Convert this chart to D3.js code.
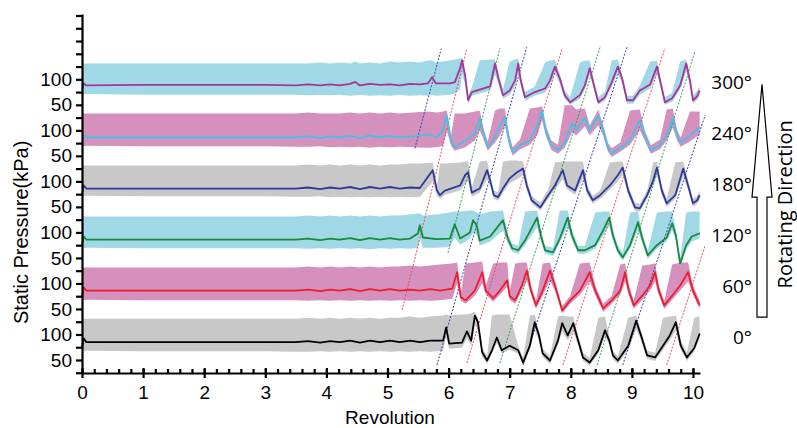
<!DOCTYPE html>
<html>
<head>
<meta charset="utf-8">
<script src="https://d3js.org/d3.v7.min.js"></script>
<style>
  body { margin: 0; background: #fff; }
  svg { display: block; font-family: "Liberation Sans", Arial, sans-serif; }
  .axis path, .axis line { stroke: #000; stroke-width: 2.2; }
  .axis text { font-size: 19px; fill: #000; font-family: "Liberation Sans", Arial, sans-serif; }
  .side { font-family: "Open Sans", "Noto Sans", sans-serif; fill: #000; }
</style>
</head>
<body>
<div id="chart-area"><svg></svg></div>
<script>
// sensor angles, bottom to top
const angles = ["0°", "60°", "120°", "180°", "240°", "300°"];

// 0 deg sensor: revolution, pressure line, envelope high / low (kPa)
const p0Rev = [0,0.03,0.07,1,2,3,3.5,3.7,3.9,4.06,4.22,4.39,4.55,4.71,4.88,5.04,5.2,5.37,5.53,5.7,5.91,5.96,6.01,6.22,6.3,6.37,6.43,6.48,6.55,6.63,6.71,6.79,6.87,7,7.14,7.22,7.33,7.41,7.48,7.54,7.66,7.79,7.86,7.95,8.04,8.12,8.2,8.31,8.45,8.56,8.63,8.69,8.77,8.94,9.07,9.15,9.25,9.38,9.51,9.62,9.72,9.8,9.9,10.02,10.11];
const p0Line = [75,92,85,85,85,85,85,87,84,87,85,88,84,88,85,88,85,88,85,88,88,114,82,84,106,88,137,124,65,49,69,94,69,78,69,45,78,124,98,63,49,88,122,98,122,88,55,45,69,108,88,59,49,78,127,98,59,55,78,98,124,78,55,73,102];
const p0Hi = [131,131,131,131,131,131,131,133,131,133,131,133,131,133,131,133,133,135,133,135,137,139,137,139,139,141,145,133,74,58,137,139,139,139,78,54,137,139,108,72,58,135,137,135,135,98,64,54,133,135,98,68,58,133,137,108,68,64,133,135,137,88,64,133,135];
const p0Lo = [67,67,68,67,67,67,66,66,67,66,67,66,67,66,67,66,67,66,67,66,68,96,72,74,92,78,118,110,58,42,62,84,62,70,62,39,70,108,88,56,42,80,106,88,106,80,48,39,62,96,80,52,42,70,110,88,52,48,70,88,108,70,48,66,92];

// 60 deg sensor
const p60Rev = [0,0.03,0.07,1,2,3,3.5,3.7,3.9,4.06,4.22,4.39,4.55,4.71,4.88,5.04,5.2,5.37,5.53,5.7,5.86,6.06,6.14,6.2,6.28,6.43,6.55,6.61,6.73,6.84,6.96,7,7.09,7.2,7.28,7.35,7.43,7.54,7.66,7.74,7.86,7.99,8.15,8.31,8.4,8.53,8.67,8.81,8.89,8.95,9.03,9.17,9.3,9.38,9.44,9.53,9.66,9.79,9.92,10,10.11];
const p60Line = [75,92,86,86,86,86,86,88,85,88,86,89,85,89,86,89,86,88,86,89,86,90,122,73,67,86,122,86,71,86,106,75,67,96,125,86,57,86,125,96,47,67,86,122,86,51,67,86,122,86,57,76,96,122,86,57,76,96,122,86,57];
const p60Hi = [131,131,131,131,131,131,131,133,131,133,131,133,131,133,131,133,133,135,133,135,137,139,141,82,139,141,143,96,139,141,141,84,139,141,141,96,66,139,141,106,56,76,139,141,96,60,76,137,139,96,66,135,137,139,96,66,137,141,141,96,66];
const p60Lo = [67,67,68,67,67,67,67,66,67,66,67,66,67,66,67,66,67,66,67,66,67,70,100,66,60,76,100,78,64,78,94,68,60,86,106,78,50,76,106,86,41,60,78,104,78,44,60,78,104,78,50,68,86,104,78,50,68,86,104,78,50];

// 120 deg sensor
const p120Rev = [0,0.03,0.07,1,2,3,3.5,3.7,3.9,4.06,4.22,4.39,4.55,4.71,4.88,5.04,5.2,5.37,5.5,5.53,5.58,5.8,6.02,6.1,6.19,6.35,6.4,6.46,6.51,6.68,6.89,6.97,7.04,7.14,7.25,7.45,7.51,7.58,7.71,7.82,7.95,8.02,8.12,8.23,8.4,8.53,8.63,8.69,8.77,8.85,8.97,9.1,9.18,9.26,9.41,9.57,9.66,9.72,9.79,9.89,9.98,10.11];
const p120Line = [75,92,86,86,86,86,86,88,85,88,86,89,85,89,86,89,86,88,98,114,90,87,88,116,88,100,124,114,84,92,124,88,69,65,84,129,94,65,61,88,129,94,65,65,75,104,129,94,65,51,75,120,84,55,75,90,118,94,39,75,92,98];
const p120Hi = [131,131,131,131,131,131,131,133,131,133,131,133,131,133,131,133,133,135,137,137,133,135,139,141,141,143,143,139,135,141,143,98,78,74,141,143,104,74,70,143,143,104,74,74,139,141,141,104,74,60,139,141,94,64,139,141,141,104,50,139,141,141];
const p120Lo = [69,69,70,69,69,69,69,68,69,68,69,68,69,67,69,68,69,68,70,90,70,70,72,90,76,88,100,96,74,82,104,78,62,58,76,110,84,58,54,80,112,84,58,58,68,94,112,84,58,45,68,104,76,48,68,82,104,84,33,67,82,88];

// 180 deg sensor
const p180Rev = [0,0.03,0.07,1,2,3,3.5,3.7,3.9,4.06,4.22,4.39,4.55,4.71,4.88,5.04,5.2,5.37,5.53,5.74,5.81,5.86,5.94,6.19,6.27,6.32,6.38,6.51,6.63,6.68,6.74,6.81,6.89,7,7.12,7.22,7.28,7.36,7.5,7.63,7.74,7.87,7.94,8.07,8.2,8.27,8.36,8.48,8.64,8.77,8.85,8.94,9.05,9.13,9.25,9.35,9.41,9.49,9.57,9.71,9.84,9.92,10,10.07,10.11];
const p180Line = [75,92,86,86,86,86,86,88,85,88,86,89,85,89,86,89,86,88,87,122,82,73,82,92,112,118,78,86,122,102,73,69,86,106,118,125,92,63,49,73,92,122,92,82,122,82,63,73,92,112,127,82,49,47,73,102,127,82,57,73,125,92,57,63,73];
const p180Hi = [131,131,131,131,131,131,131,133,131,133,131,133,131,133,131,133,133,135,135,137,92,135,135,137,139,139,88,139,141,110,82,78,139,141,141,139,102,72,58,84,137,139,139,139,139,92,72,82,137,139,139,92,58,56,82,137,139,92,66,137,139,102,66,72,82];
const p180Lo = [71,71,72,71,71,71,70,70,71,69,70,69,70,69,70,69,70,69,70,100,72,66,74,82,96,100,70,78,104,92,66,62,78,96,104,112,82,56,43,66,84,104,84,74,106,74,56,66,84,100,112,74,42,41,66,92,112,74,50,66,110,84,50,56,66];

// 240 deg sensor
const p240Rev = [0,0.03,0.07,1,2,3,3.5,3.7,3.9,4.06,4.22,4.39,4.55,4.71,4.88,5.04,5.2,5.42,5.65,5.81,5.91,5.97,6.04,6.1,6.27,6.43,6.51,6.58,6.64,6.76,6.84,6.92,6.99,7.05,7.17,7.33,7.45,7.53,7.59,7.68,7.79,7.9,8.02,8.09,8.23,8.31,8.45,8.53,8.61,8.67,8.81,8.97,9.13,9.21,9.31,9.46,9.57,9.67,9.74,9.8,9.95,10.11];
const p240Line = [75,90,86,86,86,86,86,88,85,88,86,89,85,90,86,89,86,88,92,86,100,129,80,67,80,94,124,90,67,86,110,125,80,57,71,80,110,139,100,71,61,75,114,100,125,100,129,100,65,55,65,80,120,90,61,71,90,124,90,76,90,106];
const p240Hi = [133,133,133,133,133,133,133,135,133,133,133,135,133,135,133,135,133,135,137,135,137,139,90,133,133,137,139,100,78,139,143,143,92,67,82,143,145,147,110,80,72,149,149,141,143,110,141,110,75,65,76,139,141,100,71,82,141,143,100,86,137,137];
const p240Lo = [69,69,70,69,69,69,68,68,69,67,68,67,68,66,68,67,68,67,66,67,70,100,70,60,67,80,100,80,60,76,90,110,70,50,63,72,90,120,90,62,54,66,96,90,108,90,110,90,58,48,58,72,100,80,54,63,80,105,80,68,78,92];

// 300 deg sensor
const p300Rev = [0,0.03,0.07,1,2,3,3.5,3.7,3.9,4.06,4.22,4.39,4.47,4.55,4.71,4.88,5.04,5.2,5.37,5.53,5.66,5.73,5.79,6.02,6.1,6.19,6.22,6.27,6.32,6.38,6.51,6.68,6.76,6.82,6.89,7,7.09,7.14,7.18,7.25,7.41,7.58,7.66,7.74,7.82,7.9,7.99,8.15,8.23,8.31,8.38,8.45,8.56,8.67,8.77,8.84,8.92,9.02,9.13,9.3,9.41,9.48,9.54,9.66,9.79,9.89,9.95,10,10.07,10.11];
const p300Line = [80,92,88,89,89,89,88,90,88,90,88,91,95,88,91,89,90,88,91,90,92,104,92,92,94,122,137,108,59,75,80,86,131,100,69,78,98,131,98,65,75,82,98,125,102,69,55,69,88,122,88,55,65,94,125,102,59,59,78,90,125,88,55,63,88,131,98,59,67,78];
const p300Hi = [131,131,131,131,131,131,131,131,133,131,133,131,135,131,133,131,135,133,135,133,137,137,133,137,139,141,143,118,68,84,137,139,139,110,80,135,139,141,108,75,86,133,137,139,110,78,65,133,137,137,96,65,76,137,139,110,68,68,88,135,137,96,65,73,135,139,106,68,78,86];
const p300Lo = [70,70,71,70,70,70,70,69,70,69,70,68,69,70,68,69,68,70,68,69,68,70,68,70,72,80,110,90,52,68,72,78,110,90,62,70,88,115,88,58,68,74,88,110,92,62,50,62,80,110,80,50,58,86,112,92,52,52,70,82,112,80,50,56,80,116,88,52,60,70];

// dotted stall-cell traces: start / end (revolution, stacked kPa)
const traceRev0 = [5.45, 5.24, 5.99, 5.81, 6.30, 6.84, 7.22, 7.87, 8.43, 8.85, 9.57];
const traceP0 = [465, 148, 260, 40, 44, 44, 40, 40, 40, 40, 40];
const traceRev1 = [5.88, 6.30, 6.84, 7.28, 7.86, 8.48, 8.92, 9.54, 10.03, 10.2, 10.2];
const traceP1 = [660, 661, 661, 663, 661, 663, 663, 661, 654, 530, 275];
const traceKind = ["b", "r", "g", "b", "r", "g", "b", "r", "g", "b", "r"];

const xTicks = d3.range(0, 11);
const xMinor = d3.range(0, 10.11, 0.2);
const yTicks = d3.range(25, 726, 25);

const panels = [
  { rev: p0Rev, line: p0Line, hi: p0Hi, lo: p0Lo },
  { rev: p60Rev, line: p60Line, hi: p60Hi, lo: p60Lo },
  { rev: p120Rev, line: p120Line, hi: p120Hi, lo: p120Lo },
  { rev: p180Rev, line: p180Line, hi: p180Hi, lo: p180Lo },
  { rev: p240Rev, line: p240Line, hi: p240Hi, lo: p240Lo },
  { rev: p300Rev, line: p300Line, hi: p300Hi, lo: p300Lo }
];

const lineColors = ["#000000", "#ee1d2a", "#17893a", "#2b3a9c", "#45c1e6", "#a8339a"];
const bandColors = ["#c8c8c8", "#d590bd", "#a0d8e6", "#c8c8c8", "#d590bd", "#a0d8e6"];
const traceColors = { r: "#e0505e", g: "#3f9a55", b: "#3843a0" };

const chartSize = { width: 797, height: 428 };

const x = d3.scaleLinear().domain([0, 10.115]).range([82, 700]);
const y = d3.scaleLinear().domain([24.5, 728]).range([373, 14]);

const svg = d3
  .select("#chart-area svg")
  .attr("width", chartSize.width)
  .attr("height", chartSize.height);

const drawPanels = () => {
  const area = d3
    .area()
    .x(d => x(d.r))
    .y0(d => y(d.lo))
    .y1(d => y(d.hi));
  const line = d3
    .line()
    .x(d => x(d.r))
    .y(d => y(d.v));
  const rows = panels.map((p, i) =>
    p.rev.map((r, k) => ({
      r,
      v: p.line[k] + i * 100,
      hi: p.hi[k] + i * 100,
      lo: p.lo[k] + i * 100
    }))
  );
  svg
    .append("g")
    .selectAll("path")
    .data(rows)
    .enter()
    .append("path")
    .attr("fill", (d, i) => bandColors[i])
    .attr("d", area);

  svg
    .append("g")
    .selectAll("line")
    .data(traceKind)
    .enter()
    .append("line")
    .attr("x1", (d, i) => x(traceRev0[i]))
    .attr("y1", (d, i) => y(traceP0[i]))
    .attr("x2", (d, i) => x(traceRev1[i]))
    .attr("y2", (d, i) => y(traceP1[i]))
    .attr("stroke", d => traceColors[d])
    .attr("stroke-width", 1)
    .attr("stroke-dasharray", "2,1.5");

  svg
    .append("g")
    .selectAll("path")
    .data(rows)
    .enter()
    .append("path")
    .attr("fill", "none")
    .attr("stroke", (d, i) => lineColors[i])
    .attr("stroke-width", 1.8)
    .attr("stroke-linejoin", "round")
    .attr("d", line);
};

const drawAxes = () => {
  svg
    .append("g")
    .attr("class", "axis")
    .attr("transform", `translate(0,${y.range()[0]})`)
    .call(d3.axisBottom(x).tickValues(xMinor).tickSize(-4).tickSizeOuter(0).tickFormat(""))
    .call(g => g.select(".domain").remove());
  const xAxis = svg
    .append("g")
    .attr("class", "axis")
    .attr("transform", `translate(0,${y.range()[0]})`)
    .call(d3.axisBottom(x).tickValues(xTicks).tickSize(5).tickSizeOuter(0).tickPadding(8));
  xAxis.selectAll(".tick line").attr("y1", -5);

  svg
    .append("g")
    .attr("class", "axis")
    .attr("transform", `translate(${x.range()[0]},0)`)
    .call(
      d3
        .axisLeft(y)
        .tickValues(yTicks)
        .tickSize(6)
        .tickSizeOuter(0)
        .tickPadding(4)
        .tickFormat(v => (v % 50 === 0 && v <= 600 ? (v % 100 === 0 ? "100" : "50") : ""))
    );

  svg
    .append("text")
    .attr("x", 390)
    .attr("y", 424)
    .attr("text-anchor", "middle")
    .attr("font-size", 19)
    .text("Revolution");

  svg
    .append("text")
    .attr("transform", `translate(28,${y(300)}) rotate(-90)`)
    .attr("text-anchor", "middle")
    .attr("font-size", 20)
    .text("Static Pressure(kPa)");
};

const drawSide = () => {
  svg
    .append("g")
    .selectAll("text")
    .data(angles)
    .enter()
    .append("text")
    .attr("class", "side")
    .attr("x", 752)
    .attr("y", (d, i) => y(i * 100 + 94))
    .attr("dy", "0.35em")
    .attr("text-anchor", "end")
    .attr("font-size", 19)
    .text(d => d);

  const cx = 762;
  const tip = y(590);
  const base = y(369);
  const tail = y(134);
  svg
    .append("path")
    .attr("fill", "#fff")
    .attr("stroke", "#000")
    .attr("stroke-width", 1.2)
    .attr(
      "d",
      `M${cx},${tip} L${cx + 10},${base} L${cx + 5},${base} L${cx + 5},${tail} L${cx - 5},${tail} L${cx - 5},${base} L${cx - 10},${base} Z`
    );

  svg
    .append("text")
    .attr("class", "side")
    .attr("transform", `translate(792,${y(355)}) rotate(-90)`)
    .attr("text-anchor", "middle")
    .attr("font-size", 20)
    .text("Rotating Direction");
};

drawPanels();
drawAxes();
drawSide();
</script>
</body>
</html>
